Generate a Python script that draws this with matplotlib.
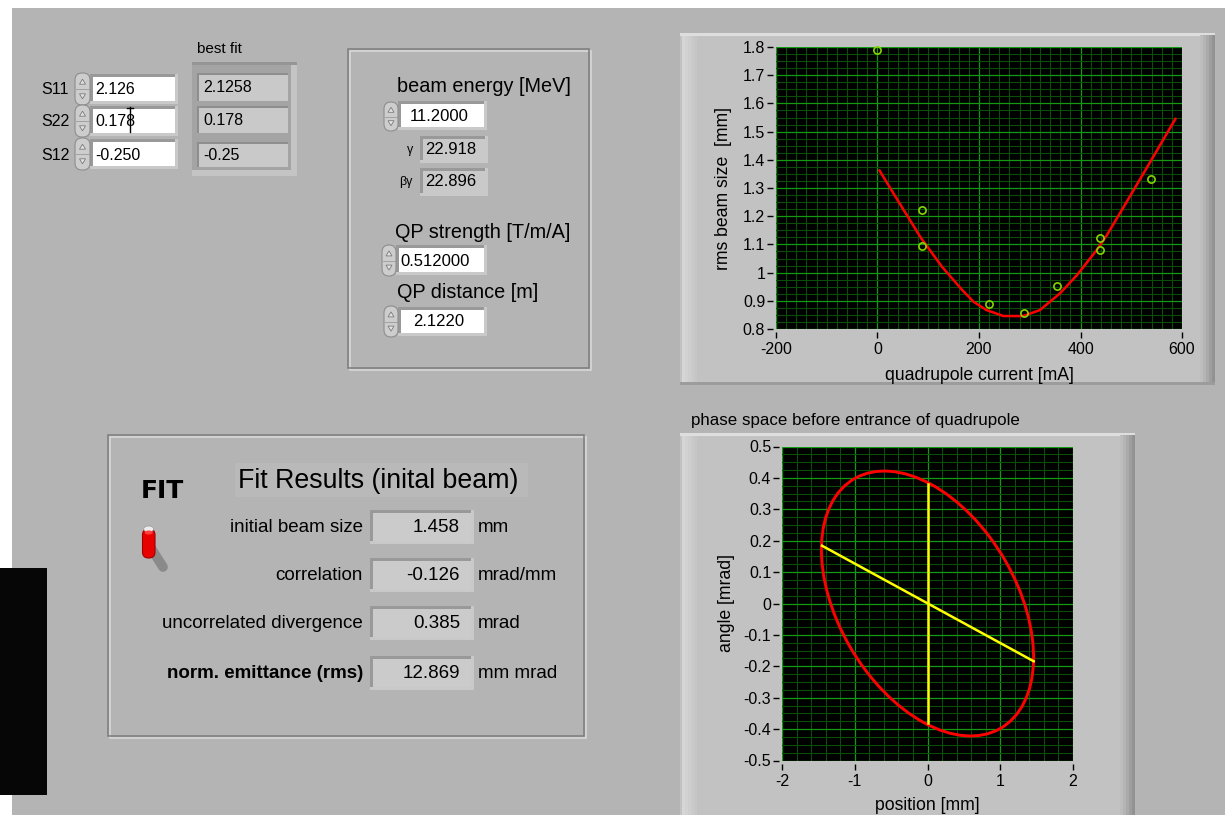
import numpy as np
import matplotlib
matplotlib.use("Agg")
import matplotlib.pyplot as plt
from matplotlib.patches import Rectangle, FancyBboxPatch, Ellipse, Polygon
from matplotlib.ticker import MultipleLocator, FuncFormatter

plt.rcParams["font.family"] = ["Liberation Sans", "DejaVu Sans"]
plt.rcParams["axes.unicode_minus"] = False

W, H = 1228, 815

# --- values ---
quad_current = [0, 87, 87, 220, 288, 354, 438, 438, 538]
beam_size = [1.790, 1.222, 1.093, 0.890, 0.857, 0.952, 1.122, 1.079, 1.331]

fit_current = [4, 42, 86, 127, 167, 189, 215, 248, 287, 320, 360, 393, 432, 452, 493, 534, 587]
fit_size = [1.362, 1.250, 1.122, 1.021, 0.938, 0.897, 0.867, 0.846, 0.846,
            0.867, 0.927, 0.991, 1.080, 1.133, 1.257, 1.382, 1.545]

sigma_labels = ["S11", "S22", "S12"]
sigma_input = ["2.126", "0.178", "-0.250"]
sigma_bestfit = ["2.1258", "0.178", "-0.25"]
sigma_matrix = [[2.126, -0.250], [-0.250, 0.178]]

corr_x = [-1.45, 1.46]
corr_y = [0.184, -0.184]
div_x = [0, 0]
div_y = [-0.38, 0.38]

beam_energy = "11.2000"
gamma = "22.918"
beta_gamma = "22.896"
qp_strength = "0.512000"
qp_distance = "2.1220"

result_labels = ["initial beam size", "correlation", "uncorrelated divergence", "norm. emittance (rms)"]
result_values = ["1.458", "-0.126", "0.385", "12.869"]
result_units = ["mm", "mrad/mm", "mrad", "mm mrad"]

PANEL = "#b4b4b4"
FRAME = "#c2c2c2"
GRID_MAJOR = "#129a12"
GRID_MINOR = "#0a4e0a"


def box(ax, x0, y0, x1, y1, fc, ec="none", lw=0, z=1):
    ax.add_patch(Rectangle((x0, y0), x1 - x0, y1 - y0, facecolor=fc,
                           edgecolor=ec, linewidth=lw, zorder=z))


def sunken(ax, x0, y0, x1, y1, fill):
    box(ax, x0 - 3, y0 - 3, x1 + 3, y1 + 3, "#999999")
    box(ax, x0 - 3, y1, x1 + 3, y1 + 3, "#c9c9c9")
    box(ax, x1, y0 - 3, x1 + 3, y1 + 3, "#c9c9c9")
    box(ax, x0, y0, x1, y1, fill)


def spinner(ax, x0, y0, x1, y1):
    ax.add_patch(FancyBboxPatch((x0 + 1, y0 + 1), x1 - x0 - 2, y1 - y0 - 2,
                                boxstyle="round,pad=0,rounding_size=7",
                                fc="#cdcdcd", ec="#8e8e8e", lw=0.8, zorder=2))
    cx = (x0 + x1) / 2
    ym = (y0 + y1) / 2
    ax.plot([x0 + 2, x1 - 2], [ym, ym], color="#9a9a9a", lw=0.6, zorder=3)
    yu = y0 + (y1 - y0) * 0.3
    yd = y0 + (y1 - y0) * 0.7
    ax.add_patch(Polygon([[cx - 3, yu + 2], [cx + 3, yu + 2], [cx, yu - 3]],
                         closed=True, fc="#e4e4e4", ec="#7a7a7a", lw=0.6, zorder=3))
    ax.add_patch(Polygon([[cx - 3, yd - 2], [cx + 3, yd - 2], [cx, yd + 3]],
                         closed=True, fc="#e4e4e4", ec="#7a7a7a", lw=0.6, zorder=3))


def etched(ax, x0, y0, x1, y1):
    ax.add_patch(Rectangle((x0 + 1.5, y0 + 1.5), x1 - x0, y1 - y0, fill=False,
                           edgecolor="#dadada", linewidth=1.1, zorder=1))
    ax.add_patch(Rectangle((x0, y0), x1 - x0, y1 - y0, fill=False,
                           edgecolor="#7c7c7c", linewidth=1.1, zorder=1))


def plot_frame(ax, x0, y0, x1, y1):
    box(ax, x0, y0, x1, y1, FRAME)
    for i, c in enumerate(["#d6d6d6", "#d2d2d2", "#cecece", "#cacaca", "#c6c6c6"]):
        box(ax, x0 + 2 + i * 3, y0, x0 + 5 + i * 3, y1, c)
    box(ax, x0, y0, x1, y0 + 2.5, "#dedede")
    for i, c in enumerate(["#bdbdbd", "#b4b4b4", "#aaaaaa", "#9e9e9e", "#929292"]):
        box(ax, x1 - 15 + i * 3, y0 + 2, x1 - 12 + i * 3, y1, c)
    box(ax, x0, y1 - 3, x1, y1, "#9c9c9c")


def style_plot(ax, xmaj, xmin, ymaj, ymin):
    ax.set_facecolor("black")
    ax.xaxis.set_major_locator(MultipleLocator(xmaj))
    ax.xaxis.set_minor_locator(MultipleLocator(xmin))
    ax.yaxis.set_major_locator(MultipleLocator(ymaj))
    ax.yaxis.set_minor_locator(MultipleLocator(ymin))
    ax.grid(which="minor", color=GRID_MINOR, lw=0.8)
    ax.grid(which="major", color=GRID_MAJOR, lw=0.9)
    ax.set_axisbelow(True)
    fmt = FuncFormatter(lambda v, p: f"{round(v, 3):g}")
    ax.xaxis.set_major_formatter(fmt)
    ax.yaxis.set_major_formatter(fmt)
    for s in ["top", "right"]:
        ax.spines[s].set_visible(False)
    for s in ["left", "bottom"]:
        ax.spines[s].set_position(("outward", 2.3))
        ax.spines[s].set_color("none")
    ax.tick_params(which="major", direction="out", length=4.3, width=1.0,
                   color="black", labelsize=11.5, labelcolor="black")
    ax.tick_params(axis="y", pad=1.2)
    ax.tick_params(axis="x", pad=3.0)
    ax.tick_params(which="minor", length=0)


fig = plt.figure(figsize=(W / 100, H / 100), dpi=100, facecolor="white")
bg = fig.add_axes([0, 0, 1, 1])
bg.set_xlim(0, W)
bg.set_ylim(H, 0)
bg.axis("off")

# panel background
box(bg, 12, 8, W - 3, H, PANEL, z=0)
box(bg, 0, 568, 47, 795, "#060606", z=1)

# --- covariance inputs (top left) ---
bg.text(219, 49, "best fit", ha="center", va="center", fontsize=11)
rows_y = [(77, 101), (109, 133), (142, 166)]
for lab, val, (y0, y1) in zip(sigma_labels, sigma_input, rows_y):
    cy = (y0 + y1) / 2
    bg.text(41, cy + 1, lab, ha="left", va="center", fontsize=11.5)
    spinner(bg, 74, y0 - 5, 91, y1 + 5)
    sunken(bg, 93, y0, 175, y1, "white")
    bg.text(95, cy + 1, val, ha="left", va="center", fontsize=11.5, zorder=4)
# text cursor in the S22 box
bg.plot([130, 130], [107, 132], color="black", lw=1.0, zorder=5)
bg.plot([127, 133], [108, 108], color="black", lw=1.0, zorder=5)

box(bg, 192, 62, 297, 176, "#a4a4a4")
box(bg, 192, 170, 297, 176, "#c4c4c4")
box(bg, 291, 62, 297, 176, "#c4c4c4")
box(bg, 192, 62, 297, 65, "#959595")
bf_rows = [(73, 101), (106, 133), (142, 167)]
for val, (y0, y1) in zip(sigma_bestfit, bf_rows):
    box(bg, 197, y0, 288, y1, "#c9c9c9")
    box(bg, 197, y0, 288, y0 + 2, "#8e8e8e")
    box(bg, 197, y0, 199, y1, "#8e8e8e")
    bg.text(203, (y0 + y1) / 2 + 1, val, ha="left", va="center", fontsize=11.5)

# --- beam / quadrupole parameters ---
etched(bg, 348, 49, 589, 368)
bg.text(397, 87, "beam energy [MeV]", ha="left", va="center", fontsize=14.3)
spinner(bg, 383, 101, 399, 132)
sunken(bg, 401, 104, 484, 127, "white")
bg.text(410, 116.5, beam_energy, ha="left", va="center", fontsize=12, zorder=4)
bg.text(413, 150, "γ", ha="right", va="center", fontsize=9)
sunken(bg, 423, 139, 485, 160, "#c9c9c9")
bg.text(425, 150, gamma, ha="left", va="center", fontsize=12, zorder=4)
bg.text(413, 182, "βγ", ha="right", va="center", fontsize=9)
sunken(bg, 423, 171, 485, 193, "#c9c9c9")
bg.text(425, 182, beta_gamma, ha="left", va="center", fontsize=12, zorder=4)

bg.text(395, 233, "QP strength [T/m/A]", ha="left", va="center", fontsize=14.3)
spinner(bg, 381, 244, 397, 277)
sunken(bg, 399, 248, 484, 272, "white")
bg.text(400, 261, qp_strength, ha="left", va="center", fontsize=12, zorder=4)
bg.text(397, 293, "QP distance [m]", ha="left", va="center", fontsize=14.3)
spinner(bg, 383, 305, 399, 338)
sunken(bg, 401, 310, 484, 333, "white")
bg.text(413, 322, qp_distance, ha="left", va="center", fontsize=12, zorder=4)

# --- fit results box ---
etched(bg, 108, 435, 584, 736)
bg.text(141, 491, "FIT", ha="left", va="center", fontsize=18, fontweight="bold",
        family="DejaVu Sans")
bg.plot([151, 163], [548, 567], color="#8a8a8a", lw=7, solid_capstyle="round", zorder=2)
bg.add_patch(FancyBboxPatch((142.5, 529), 12.5, 29, boxstyle="round,pad=0,rounding_size=6",
                            fc="#e80000", ec="#a00000", lw=0.8, zorder=3))
bg.add_patch(Ellipse((148.7, 529), 10, 6, fc="#ececec", ec="#9a9a9a", lw=0.5, zorder=4))
bg.add_patch(Ellipse((148.7, 532.5), 8, 4, fc="#ff4040", ec="none", zorder=4))

box(bg, 235, 463, 528, 497, "#b9b9b9")
bg.text(238, 481, "Fit Results (inital beam)", ha="left", va="center", fontsize=19.3)
res_y = [527, 575, 623, 673]
for i, (lab, val, unit, cy) in enumerate(zip(result_labels, result_values, result_units, res_y)):
    bg.text(363, cy, lab, ha="right", va="center", fontsize=13.5,
            fontweight="bold" if i == 3 else "normal")
    sunken(bg, 373, cy - 14, 471, cy + 14, "#cbcbcb")
    bg.text(460, cy, val, ha="right", va="center", fontsize=13.5, zorder=4)
    bg.text(478, cy, unit, ha="left", va="center", fontsize=13.5)

# --- graph frames ---
plot_frame(bg, 680, 33, 1215, 385)
plot_frame(bg, 680, 433, 1135, H + 5)
bg.text(691, 421, "phase space before entrance of quadrupole", ha="left", va="center",
        fontsize=12.2)

# --- beam size vs quadrupole current ---
ax1 = fig.add_axes([776 / W, 1 - 329 / H, 406 / W, 282 / H])
style_plot(ax1, 200, 20, 0.1, 0.025)
ax1.plot(fit_current, fit_size, color="#ff0000", lw=1.8, zorder=3)
ax1.plot(quad_current, beam_size, "o", mfc="none", mec="#86d400", ms=5.2, mew=1.2,
         zorder=4, clip_on=False)
ax1.set_xlim(-200, 600)
ax1.set_ylim(0.8, 1.8)
ax1.set_xlabel("quadrupole current [mA]", fontsize=12.7, va="center")
ax1.set_ylabel("rms beam size  [mm]", fontsize=12.7, va="center")
ax1.xaxis.set_label_coords(0.5, (329 - 375) / 282)
ax1.yaxis.set_label_coords((724 - 776) / 406, 0.5)

# --- phase space ellipse ---
ax2 = fig.add_axes([782 / W, 1 - 760.5 / H, 291 / W, 314 / H])
style_plot(ax2, 1, 0.2, 0.1, 0.025)
evals, evecs = np.linalg.eigh(np.array(sigma_matrix))
big = np.argmax(evals)
angle = np.degrees(np.arctan2(evecs[1, big], evecs[0, big]))
ax2.add_patch(Ellipse((0, 0), 2 * np.sqrt(evals[big]), 2 * np.sqrt(evals[1 - big]),
                      angle=angle, fill=False, edgecolor="#ff0000", lw=2.1, zorder=3))
ax2.plot(corr_x, corr_y, color="#ffff00", lw=1.8, zorder=4)
ax2.plot(div_x, div_y, color="#ffff00", lw=1.8, zorder=4)
ax2.set_xlim(-2, 2)
ax2.set_ylim(-0.5, 0.5)
ax2.set_xlabel("position [mm]", fontsize=12.7, va="center")
ax2.set_ylabel("angle [mrad]", fontsize=12.7, va="center")
ax2.xaxis.set_label_coords(0.5, (760.5 - 805) / 314)
ax2.yaxis.set_label_coords((727 - 782) / 291, 0.5)

fig.savefig("out.png", dpi=100)
